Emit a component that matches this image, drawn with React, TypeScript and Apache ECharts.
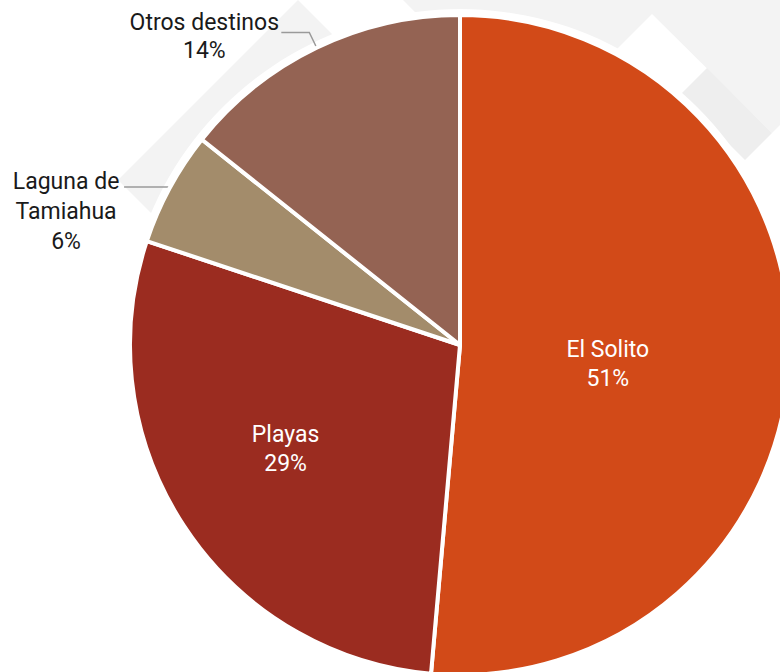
import React, { useEffect, useRef } from 'react';
import * as echarts from 'echarts';

const categories = ['El Solito', 'Playas', 'Laguna de Tamiahua', 'Otros destinos'];
const shares = [51.4, 28.7, 5.6, 14.3];
const colors = ['#D24A18', '#9B2C20', '#A38C6B', '#946353'];

export default function App() {
  const ref = useRef<HTMLDivElement>(null);
  useEffect(() => {
    document.body.style.margin = '0';
    const chart = echarts.init(ref.current as HTMLDivElement, null, { renderer: 'svg' });
    const font = 'Roboto, "Noto Sans", sans-serif';
    const data = categories.map((name, i) => {
      const item: any = { name, value: shares[i], itemStyle: { color: colors[i] } };
      if (i < 2) item.label = { position: 'inside' };
      if (i === 2) {
        item.label = { padding: [50, 0, 0, 0] };
        item.labelLine = { length: 2, length2: 44 };
      }
      if (i === 3) {
        item.label = { padding: [8, 0, 0, 0] };
        item.labelLine = { length: 17, length2: 28 };
      }
      return item;
    });
    const option: any = {
      animation: false,
      backgroundColor: '#ffffff',
      graphic: [
        { type: 'polygon', z: 0, silent: true, shape: { points: [[298, 0], [118, 180], [320, 382], [500, 202]] }, style: { fill: '#f3f3f3' } },
        { type: 'polygon', z: 0, silent: true, shape: { points: [[403, 0], [780, 0], [780, 125], [772, 133], [652, 14], [534, 132]] }, style: { fill: '#f3f3f3' } },
        { type: 'polygon', z: 0, silent: true, shape: { points: [[707, 68], [772, 133], [745, 160], [680, 95]] }, style: { fill: '#eeeeee' } },
      ],
      series: [
        {
          type: 'pie',
          silent: true,
          z: 1,
          center: [460, 345],
          radius: 336,
          label: { show: false },
          labelLine: { show: false },
          itemStyle: { color: '#ffffff', borderWidth: 0 },
          data: [{ name: '', value: 1 }],
        },
        {
          type: 'pie',
          z: 2,
          center: [460, 345],
          radius: 330,
          startAngle: 90,
          clockwise: true,
          percentPrecision: 0,
          avoidLabelOverlap: false,
          itemStyle: { borderColor: '#ffffff', borderWidth: 4 },
          emphasis: { disabled: true },
          labelLine: { show: true, lineStyle: { color: '#9a9a9a', width: 1.5 }, smooth: false },
          label: {
            show: true,
            position: 'outside',
            distanceToLabelLine: 3,
            fontFamily: font,
            formatter: (p: any) => {
              const lines = p.dataIndex === 2 ? ['Laguna de', 'Tamiahua'] : [p.name];
              const st = p.dataIndex < 2 ? 'c' : p.dataIndex === 2 ? 'l' : 'o';
              return [...lines, p.percent + '%'].map((s) => `{${st}|${s}}`).join('\n');
            },
            rich: {
              c: { color: '#ffffff', fontSize: 23, lineHeight: 29, fontFamily: font, align: 'center' },
              l: { color: '#1a1a1a', fontSize: 23, lineHeight: 30, fontFamily: font, width: 110, align: 'center' },
              o: { color: '#1a1a1a', fontSize: 23, lineHeight: 28, fontFamily: font, width: 148, align: 'center' },
            },
          },
          labelLayout: (p: any) => {
            if (p.dataIndex === 0) return { dx: -20, dy: 12 };
            if (p.dataIndex === 1) return { dx: -34, dy: 12 };
            return {};
          },
          data,
        },
      ],
    };
    chart.setOption(option);
    return () => chart.dispose();
  }, []);
  return <div ref={ref} style={{ width: 780, height: 672 }} />;
}
